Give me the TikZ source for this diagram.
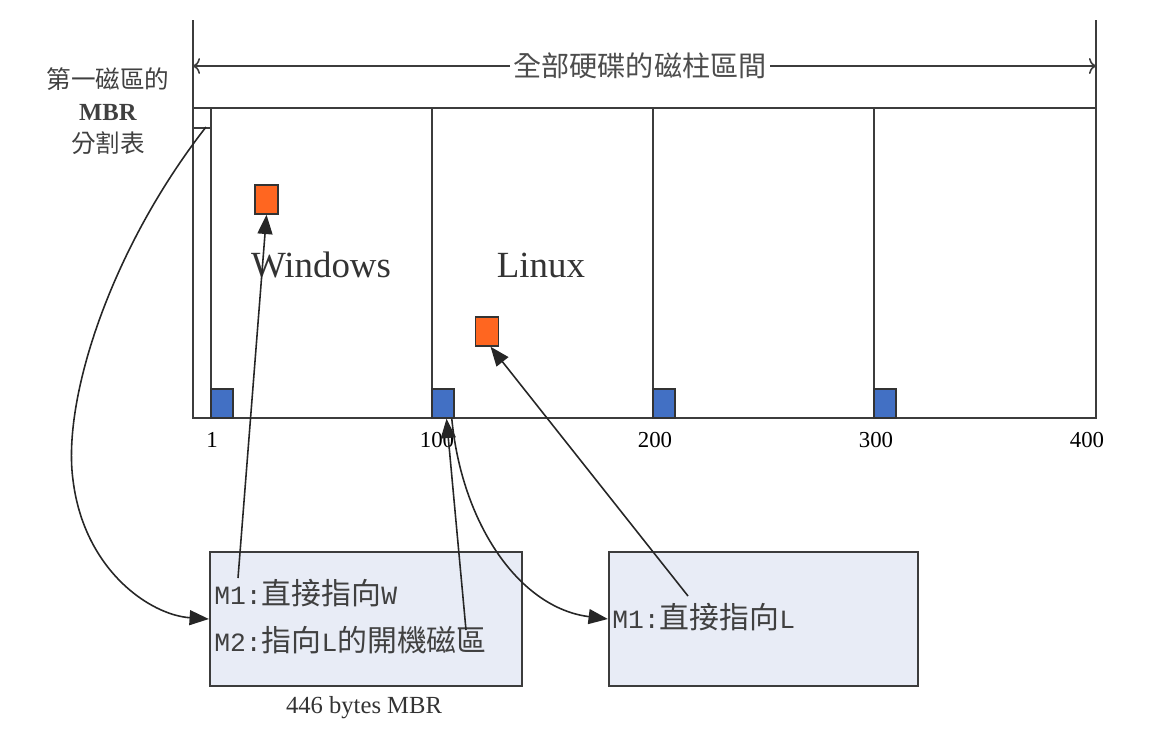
\documentclass[tikz,border=0pt]{standalone}
\usepackage{fontspec}
\setmainfont{Liberation Serif}
\newfontfamily\cjk{Noto Sans CJK TC}
\newfontfamily\mono{Liberation Mono}
\usetikzlibrary{arrows.meta}
\definecolor{blkblue}{RGB}{66,112,196}
\definecolor{blkorange}{RGB}{255,102,32}
\definecolor{boxfill}{RGB}{232,236,246}
\definecolor{linegray}{RGB}{60,60,60}
\tikzset{disk/.style = {draw=linegray, line width=1.3pt}}
\tikzset{blueblk/.style = {draw=black!80, fill=blkblue, line width=0.8pt, inner sep=0pt, minimum width=0.44cm, minimum height=0.58cm}}
\tikzset{orangeblk/.style = {draw=black!80, fill=blkorange, line width=0.8pt, inner sep=0pt, minimum width=0.46cm, minimum height=0.58cm}}
\tikzset{mbrbox/.style = {draw=linegray, fill=boxfill, line width=1.3pt, inner sep=0pt}}
\tikzset{pointer/.style = {draw=black!85, line width=0.9pt, -{Triangle[length=11pt,width=8.5pt]}}}
\tikzset{ticklabel/.style = {font=\fontsize{13}{15}\selectfont, inner sep=1pt}}
\tikzset{boxtext/.style = {anchor=west, inner sep=0pt, text=black!75, font=\fontsize{17}{19}\selectfont}}
\newcommand\latin[1]{{\mono\fontsize{15}{17}\selectfont #1}}

\begin{document}
\begin{tikzpicture}[x=0.02cm, y=-0.02cm]
      \useasboundingbox (0,0) rectangle (1168,744);
      % disk outline and partitions
      \draw[disk] (193,20) -- (193,418) -- (1096,418) -- (1096,20);
      \draw[disk] (193,108) -- (1096,108);
      \draw[disk] (193,128) -- (211,128);
      \foreach \x in {211,432,653,874}
        \draw[disk] (\x,108) -- (\x,418);
      % whole range of cylinders
      \coordinate (rangeL) at (193,66);
      \coordinate (rangeR) at (1096,66);
      \draw[draw=linegray, line width=0.9pt, {To[length=4pt,width=9pt]}-{To[length=4pt,width=9pt]}] (rangeL) -- (rangeR)
        node [pos=0.495, fill=white, inner sep=2pt, text=black!70, font=\cjk\fontsize{16}{18}\selectfont] (range) {全部硬碟的磁柱區間};
      \node[align=center, text=black!75, font=\fontsize{14}{17}\selectfont] (mbrlabel) at (108,111)
        {{\cjk 第一磁區的}\\[1pt] \textbf{MBR}\\[1pt] {\cjk 分割表}};
      \coordinate (mbr) at (206,127);
      % boot sectors
      \foreach \x/\n in {222/1,443/2,664/3,885/4}
        \node[blueblk] (b\n) at (\x,403.5) {};
      \node[orangeblk] (o1) at (266.5,199.5) {};
      \node[orangeblk] (o2) at (487,331.5) {};
      \node[font=\fontsize{21}{24}\selectfont, text=black!80] (win) at (321,265) {Windows};
      \node[font=\fontsize{21}{24}\selectfont, text=black!80] (lnx) at (541,265) {Linux};
      \foreach \x/\t in {212/1,437/100,655/200,876/300,1087/400}
        \node[ticklabel] (t\t) at (\x,440) {\t};
      % boot loaders
      \node[mbrbox, minimum width=6.24cm, minimum height=2.68cm] (boxW) at (366,619) {};
      \node[mbrbox, minimum width=6.18cm, minimum height=2.68cm] (boxL) at (763.5,619) {};
      \node[boxtext] (m1) at (214,593) {\latin{M1:}{\cjk 直接指向}\latin{W}};
      \node[boxtext] (m2) at (214,640) {\latin{M2:}{\cjk 指向}\latin{L}{\cjk 的開機磁區}};
      \node[boxtext] (m3) at (612,617) {\latin{M1:}{\cjk 直接指向}\latin{L}};
      \node[font=\fontsize{14}{16}\selectfont, text=black!80] (size) at (364,708) {446 bytes MBR};
      % pointers
      \coordinate (srcW) at (238,578);
      \coordinate (srcL) at (466,630);
      \coordinate (srcLL) at (688,596);
      \draw[pointer] (srcW) -- (o1.south);
      \draw[pointer] (srcL) -- ([xshift=2pt]b2.south);
      \draw[pointer] ([xshift=5pt]b2.south) .. controls (462,525) and (520,608) .. (boxL.west);
      \draw[pointer] (srcLL) -- ([xshift=2pt]o2.south);
      \draw[pointer] (mbr) .. controls (110,250) and (62,400) .. (73,480) .. controls (84,570) and (150,615) .. (boxW.west);
    \end{tikzpicture}
\end{document}
